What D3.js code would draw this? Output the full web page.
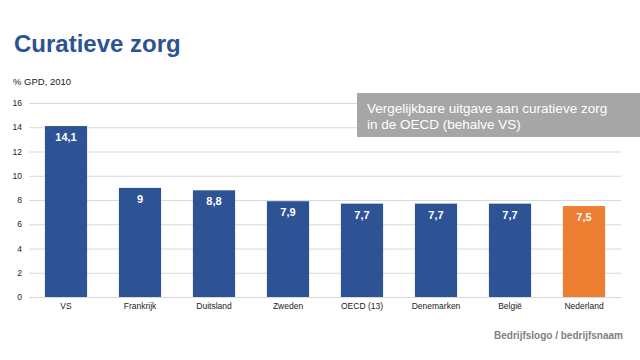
<!DOCTYPE html>
<html><head><meta charset="utf-8">
<script src="https://cdn.jsdelivr.net/npm/d3@7"></script>
<style>body{margin:0;background:#fff;font-family:"Liberation Sans",Arial,sans-serif}</style>
</head><body><svg id="c" width="640" height="360"></svg>
<script>
const categories = ["VS","Frankrijk","Duitsland","Zweden","OECD (13)","Denemarken","België","Nederland"];
const values = [14.1, 9, 8.8, 7.9, 7.7, 7.7, 7.7, 7.5];
const valueLabels = ["14,1","9","8,8","7,9","7,7","7,7","7,7","7,5"];
const highlight = ["Nederland"];
const yTicks = [0,2,4,6,8,10,12,14,16];

const svg = d3.select("#c");
const x = d3.scaleBand().domain(categories).range([29, 621]).paddingInner(0.43).paddingOuter(0.215);
const y = d3.scaleLinear().domain([0,16]).range([297, 103]);

svg.append("text").attr("x",14).attr("y",52).attr("font-size",24).attr("font-weight","bold")
  .attr("fill","#2E5395").text("Curatieve zorg");
svg.append("text").attr("x",13).attr("y",85).attr("font-size",9.5).attr("fill","#222").text("% GPD, 2010");

const ya = svg.append("g").attr("transform","translate(29,0)")
  .call(d3.axisLeft(y).tickValues(yTicks).tickSize(-592).tickPadding(7));
ya.select(".domain").remove();
ya.selectAll("line").attr("stroke","#D9D9D9");
ya.selectAll("text").attr("font-size",8.5).attr("fill","#222").attr("font-family","Liberation Sans, Arial, sans-serif");

svg.selectAll("rect.bar").data(categories).join("rect").attr("class","bar")
  .attr("x",d=>x(d)).attr("width",x.bandwidth())
  .attr("y",(d,i)=>y(values[i])).attr("height",(d,i)=>y(0)-y(values[i]))
  .attr("fill",d=>highlight.includes(d)?"#ED7D31":"#2E5395");

svg.selectAll("text.val").data(categories).join("text").attr("class","val")
  .attr("x",d=>x(d)+x.bandwidth()/2).attr("y",(d,i)=>y(values[i])+15)
  .attr("text-anchor","middle").attr("font-size",11).attr("font-weight","bold").attr("fill","#fff")
  .text((d,i)=>valueLabels[i]);

const xa = svg.append("g").attr("transform","translate(0,297)").call(d3.axisBottom(x).tickSize(0).tickPadding(6));
xa.select(".domain").attr("stroke","#D9D9D9");
xa.selectAll("text").attr("font-size",8.5).attr("fill","#222").attr("font-family","Liberation Sans, Arial, sans-serif");

svg.append("rect").attr("x",357).attr("y",93).attr("width",283).attr("height",44).attr("fill","#A6A6A6");
svg.append("text").attr("x",367).attr("y",113).attr("font-size",13.5).attr("fill","#fff").text("Vergelijkbare uitgave aan curatieve zorg");
svg.append("text").attr("x",367).attr("y",129).attr("font-size",13.5).attr("fill","#fff").text("in de OECD (behalve VS)");

svg.append("text").attr("x",623).attr("y",339).attr("text-anchor","end").attr("font-size",10).attr("font-weight","bold")
  .attr("fill","#7F7F7F").text("Bedrijfslogo / bedrijfsnaam");
</script></body></html>
